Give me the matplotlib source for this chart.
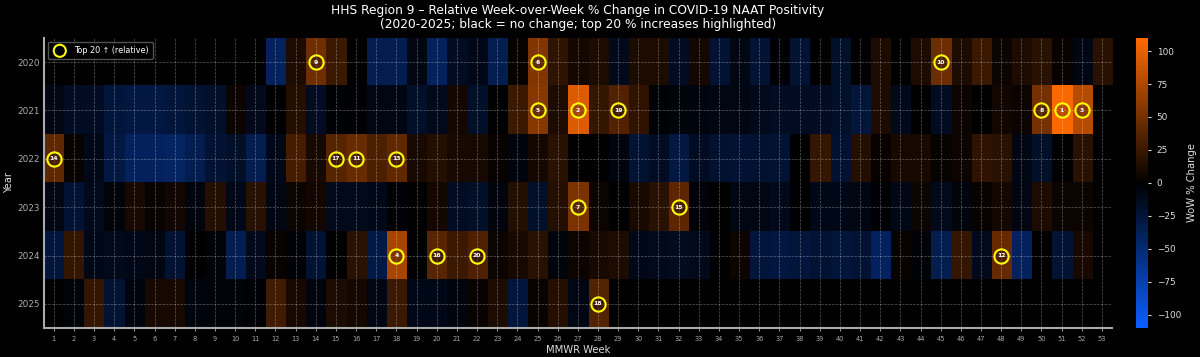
# Heatmap: cambio relativo semana a semana, positividad NAAT COVID-19, Región 9 HHS

import numpy as np
import matplotlib.pyplot as plt
from matplotlib import colors

nan = np.nan

years = [2020, 2021, 2022, 2023, 2024, 2025]
weeks = list(range(1, 54))

wow_2020 = [nan] * 11 + [-40, 12, 48, 25, 0, -35, -35, -8, -40, -15, -10, -35, 3, 55, 20, 8, 12,
                         -12, 12, 12, -15, 8, -22, -8, -22, -3, -22, 0, -18, 0, 12, 0, 12, 47, 12,
                         25, 5, 12, 18, 3, -8, 18]
wow_2021 = [-8, -15, -15, -25, -28, -28, -25, -22, -18, 5, -12, 0, 15, -15, -2, -2, -8, -8, -18,
            -12, 8, -18, 0, 25, 58, 12, 95, 22, 35, 20, -2, -5, -6, -8, -8, -12, -15, -15, -15,
            -18, -25, 12, -12, 0, -15, 5, 0, 7, 5, 50, 108, 78, nan]
wow_2022 = [41, 4, -10, -28, -40, -40, -42, -35, -22, -18, -35, -10, 30, 10, 37, 45, 32, 42, 10,
            15, 10, 10, 3, -6, 8, 18, 0, 0, -6, -22, -15, -28, -15, -20, -22, -20, -22, 0, 22,
            -20, 15, 3, 10, 10, 2, 5, 20, 18, -8, -18, 0, 18, nan]
wow_2023 = [-8, -22, -12, -4, 10, 4, 7, -6, 15, -10, 18, -8, 5, 7, -12, -12, -10, -2, 0, 8, -15,
            -18, -6, 15, -18, 15, 52, 5, 0, 10, 18, 40, -3, 0, -8, -8, -12, 0, -10, -10, -8, -2,
            -10, 6, -12, -5, 3, 8, -8, 12, 5, 5, nan]
wow_2024 = [-25, 22, -10, -12, -10, -8, -22, 0, -4, -35, -12, 4, -3, -22, 0, 18, -30, 72, 0, 38,
            25, 34, 5, 10, 18, -5, 5, 10, 12, -10, -12, -14, -12, 0, 5, -25, -27, -25, -22, -25,
            -22, -40, 4, -3, -35, 22, -12, 44, -40, 0, -22, 10, nan]
wow_2025 = [0, -4, 22, -22, -6, 10, 10, -6, -4, -4, -2, 28, 10, -6, 12, 8, -8, 25, -10, -10, -6,
            4, 12, -25, 4, 15, -8, 36] + [nan] * 25

data = np.array([wow_2020, wow_2021, wow_2022, wow_2023, wow_2024, wow_2025], dtype=float)

# colores: azul (baja) -> negro (sin cambio) -> naranja (sube)
cmap = colors.LinearSegmentedColormap.from_list("wow", ["#0a5eff", "#000000", "#ff6a00"])
lim = 110

plt.rcParams['font.family'] = ['DejaVu Sans']
fig = plt.figure(figsize=(12, 3.57), dpi=100, facecolor='black')
ax = fig.add_axes([0.0364, 0.081, 0.8903, 0.813])
ax.set_facecolor('black')

im = ax.imshow(data, cmap=cmap, vmin=-lim, vmax=lim, aspect='auto', interpolation='nearest',
               extent=(0.5, 53.5, len(years) - 0.5, -0.5))

# top 20 subidas
flat = np.where(np.isnan(data), -np.inf, data).ravel()
top = np.argsort(flat)[::-1][:20]
rows, cols = np.unravel_index(top, data.shape)
ax.scatter(cols + 1, rows, s=105, facecolors=(0, 0, 0, 0.25), edgecolors='yellow',
           linewidths=1.5, zorder=3, label='Top 20 ↑ (relative)')
for rank, (r, c) in enumerate(zip(rows, cols), start=1):
    ax.text(c + 1, r, str(rank), ha='center', va='center', color='white', fontsize=4.4,
            fontweight='bold', zorder=4)

ax.set_xlim(0.5, 53.5)
ax.set_ylim(len(years) - 0.5, -0.5)
ax.set_xticks(weeks)
ax.set_xticklabels([str(w) for w in weeks], fontsize=4.8, color='#cccccc')
ax.set_yticks(range(len(years)))
ax.set_yticklabels([str(y) for y in years], fontsize=6.4, color='#dddddd')
ax.tick_params(colors='#aaaaaa', length=2.5, width=0.6)
ax.tick_params(axis='y', length=0, pad=3)
ax.grid(True, color='white', linestyle='--', linewidth=0.5, alpha=0.35)

for side in ['top', 'right']:
    ax.spines[side].set_visible(False)
for side in ['left', 'bottom']:
    ax.spines[side].set_color('#aaaaaa')
    ax.spines[side].set_linewidth(1.5)

ax.set_xlabel('MMWR Week', fontsize=7.2, color='#dddddd', labelpad=2)
ax.set_ylabel('Year', fontsize=7.2, color='#dddddd')
ax.yaxis.set_label_coords(-0.028, 0.5)
ax.set_title('HHS Region 9 – Relative Week-over-Week % Change in COVID-19 NAAT Positivity\n'
             '(2020-2025; black = no change; top 20 % increases highlighted)',
             fontsize=8.8, color='white', pad=7, linespacing=1.15)

leg = ax.legend(loc='upper left', fontsize=5.8, facecolor='black', edgecolor='#666666',
                labelcolor='white', borderpad=0.5, handletextpad=0.8, markerscale=0.85)
leg.get_frame().set_alpha(0.8)
for h in leg.legend_handles:
    h.set_facecolor('none')

cax = fig.add_axes([0.947, 0.081, 0.010, 0.813])
cb = fig.colorbar(im, cax=cax, ticks=[-100, -75, -50, -25, 0, 25, 50, 75, 100])
cb.outline.set_visible(False)
cb.ax.tick_params(labelsize=6.4, colors='#dddddd', length=2.5)
cb.set_label('WoW % Change', fontsize=7.2, color='#dddddd', labelpad=4)

fig.savefig('out.png', dpi=100, facecolor='black')
